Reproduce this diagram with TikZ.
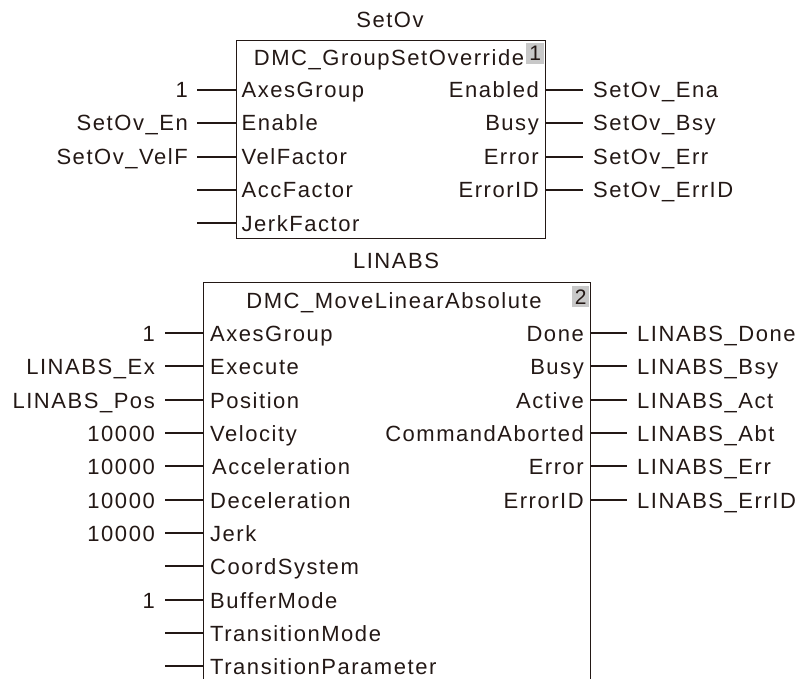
\documentclass[tikz,border=0pt]{standalone}
\usepackage{fontspec}
\setmainfont[LetterSpace=7]{Liberation Sans}
\definecolor{ink}{HTML}{231815}
\definecolor{badgegray}{HTML}{C8C8C8}
\begin{document}
\begin{tikzpicture}[x=1pt,y=-1pt,
  lbl/.style={inner sep=0pt, text=ink, font=\fontsize{22}{26}\selectfont},
  wire/.style={draw=ink, line width=1.2pt},
  blk/.style={draw=ink, line width=1.4pt, inner sep=0pt},
  badge/.style={fill=badgegray, inner sep=0pt, text=ink, font=\fontsize{21}{24}\selectfont}]
\useasboundingbox (0,0) rectangle (803,679);
\clip (0,0) rectangle (803,679);

% ---------- Block 1 ----------
\node[lbl, anchor=base] (inst1) at (390,28) {SetOv};
\node[blk, anchor=north west, minimum width=309pt, minimum height=198pt] (B1) at (236,40) {};
\node[badge, anchor=north east, minimum width=18pt, minimum height=21pt] (badge1) at (544.3,43) {1};
\node[lbl, anchor=base] (type1) at (389,66) {DMC\_GroupSetOverride};

\foreach \ext/\pin [count=\i from 0] in {1/AxesGroup, SetOv\_En/Enable, SetOv\_VelF/VelFactor, /AccFactor, /JerkFactor} {
  \pgfmathsetmacro\yy{round(90+33.33*\i)}
  \coordinate (b1e\i) at (236,\yy);
  \coordinate (b1w\i) at (197,\yy);
  \draw[wire] (b1w\i) -- (b1e\i);
  \node[lbl, anchor=base east] (b1x\i) at (188,\yy+8) {\ext};
  \node[lbl, anchor=base west] (b1p\i) at (241.5,\yy+8) {\pin};
}
\foreach \pin/\ext [count=\i from 0] in {Enabled/SetOv\_Ena, Busy/SetOv\_Bsy, Error/SetOv\_Err, ErrorID/SetOv\_ErrID} {
  \pgfmathsetmacro\yy{round(90+33.33*\i)}
  \coordinate (b1o\i) at (545,\yy);
  \coordinate (b1r\i) at (583,\yy);
  \draw[wire] (b1o\i) -- (b1r\i);
  \node[lbl, anchor=base east] (b1q\i) at (539,\yy+8) {\pin};
  \node[lbl, anchor=base west] (b1y\i) at (593,\yy+8) {\ext};
}

% ---------- Block 2 ----------
\node[lbl, anchor=base] (inst2) at (396,268) {LINABS};
\node[blk, anchor=north west, minimum width=387pt, minimum height=430pt] (B2) at (203,282) {};
\node[badge, anchor=north east, minimum width=17pt, minimum height=21pt] (badge2) at (589.3,286) {2};
\node[lbl, anchor=base] (type2) at (394,308) {DMC\_MoveLinearAbsolute};

\foreach \ext/\pin/\px [count=\i from 0] in {1/AxesGroup/210, LINABS\_Ex/Execute/210, LINABS\_Pos/Position/210, 10000/Velocity/210, 10000/Acceleration/212, 10000/Deceleration/210, 10000/Jerk/210, /CoordSystem/210, 1/BufferMode/210, /TransitionMode/210, /TransitionParameter/210} {
  \pgfmathsetmacro\yy{round(333+33.33*\i)}
  \coordinate (b2e\i) at (203,\yy);
  \coordinate (b2w\i) at (165,\yy);
  \draw[wire] (b2w\i) -- (b2e\i);
  \node[lbl, anchor=base east] (b2x\i) at (155,\yy+8) {\ext};
  \node[lbl, anchor=base west] (b2p\i) at (\px,\yy+8) {\pin};
}
\foreach \pin/\ext [count=\i from 0] in {Done/LINABS\_Done, Busy/LINABS\_Bsy, Active/LINABS\_Act, CommandAborted/LINABS\_Abt, Error/LINABS\_Err, ErrorID/LINABS\_ErrID} {
  \pgfmathsetmacro\yy{round(333+33.33*\i)}
  \coordinate (b2o\i) at (590,\yy);
  \coordinate (b2r\i) at (627,\yy);
  \draw[wire] (b2o\i) -- (b2r\i);
  \node[lbl, anchor=base east] (b2q\i) at (584,\yy+8) {\pin};
  \node[lbl, anchor=base west] (b2y\i) at (637,\yy+8) {\ext};
}
\end{tikzpicture}
\end{document}
